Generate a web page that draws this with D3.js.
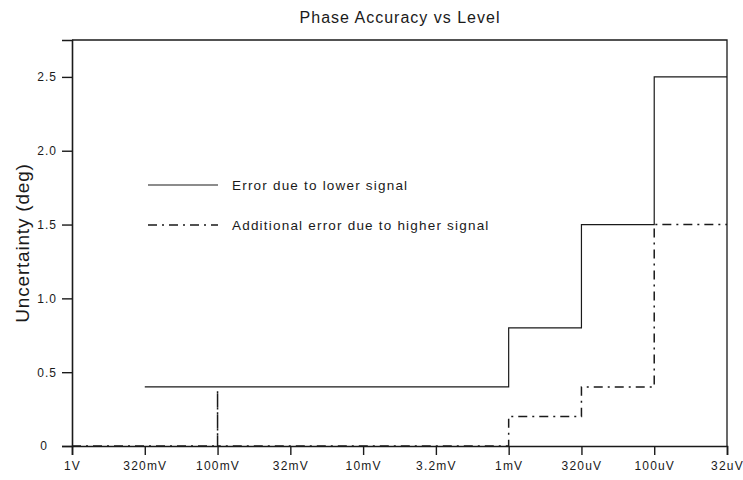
<!DOCTYPE html>
<html>
<head>
<meta charset="utf-8">
<script src="https://cdn.jsdelivr.net/npm/d3@7"></script>
<style>
  body { margin: 0; background: #fff; }
  svg { font-family: "Liberation Sans", Arial, sans-serif; }
</style>
</head>
<body>
<svg id="chart" width="743" height="480"></svg>
<script>
// levels along the x axis (decreasing signal)
const levels = ["1V", "320mV", "100mV", "32mV", "10mV", "3.2mV", "1mV", "320uV", "100uV", "32uV"];
const yTicks = [0, 0.5, 1.0, 1.5, 2.0, 2.5];

// Error due to lower signal (step, value holds until next level)
const lowerLevels = ["320mV", "1mV", "320uV", "100uV", "32uV"];
const lowerValues = [0.4, 0.8, 1.5, 2.5, 2.5];

// Additional error due to higher signal
const higherLevels = ["1V", "100mV", "100mV", "100mV", "1mV", "320uV", "100uV", "32uV"];
const higherValues = [0, 0, 0.38, 0, 0.2, 0.4, 1.5, 1.5];

const legendNames = ["Error due to lower signal", "Additional error due to higher signal"];

const margin = { top: 40, right: 16, bottom: 34, left: 72 };
const width = 743, height = 480;
const ink = "#1a1a1a";

const svg = d3.select("#chart");

const x = d3.scalePoint().domain(levels).range([margin.left, width - margin.right]);
const y = d3.scaleLinear().domain([0, 2.75]).range([height - margin.bottom, margin.top]);

// title
svg.append("text")
  .attr("x", 400).attr("y", 23)
  .attr("text-anchor", "middle")
  .attr("font-size", 16)
  .attr("letter-spacing", 1)
  .attr("fill", ink)
  .text("Phase Accuracy vs Level");

// y label
svg.append("text")
  .attr("transform", `translate(29,${(margin.top + height - margin.bottom) / 2}) rotate(-90)`)
  .attr("text-anchor", "middle")
  .attr("font-size", 19)
  .attr("letter-spacing", 0.8)
  .attr("fill", ink)
  .text("Uncertainty (deg)");

// frame top + right
svg.append("path")
  .attr("d", `M${x("1V")},${y(2.75)}H${x("32uV")}V${y(0)}`)
  .attr("fill", "none").attr("stroke", ink).attr("stroke-width", 1.3);

// axes
const xAxis = d3.axisBottom(x).tickSize(9).tickPadding(6);
const gx = svg.append("g")
  .attr("transform", `translate(0,${y(0)})`)
  .call(xAxis);
gx.select(".domain").attr("stroke", ink).attr("stroke-width", 1.6);
gx.selectAll(".tick line").attr("stroke", ink).attr("stroke-width", 1.4);
gx.selectAll(".tick text")
  .attr("font-size", 12).attr("letter-spacing", 1.2).attr("fill", ink)
  .attr("font-family", "Liberation Sans, Arial, sans-serif");

const yAxis = d3.axisLeft(y).tickValues(yTicks).tickSize(10).tickPadding(5)
  .tickFormat(d => d === 0 ? "0" : d3.format(".1f")(d));
const gy = svg.append("g")
  .attr("transform", `translate(${margin.left},0)`)
  .call(yAxis);
gy.select(".domain").attr("stroke", ink).attr("stroke-width", 1.6);
gy.selectAll(".tick line").attr("stroke", ink).attr("stroke-width", 1.4);
gy.selectAll(".tick text")
  .attr("font-size", 12).attr("letter-spacing", 1).attr("fill", ink)
  .attr("font-family", "Liberation Sans, Arial, sans-serif");
gy.selectAll(".tick").filter(d => d === 0).select("text").attr("dx", -9);

// series
const line = d3.line()
  .x(d => x(d[0]))
  .y(d => y(d[1]))
  .curve(d3.curveStepAfter);

const lowerData = lowerLevels.map((l, i) => [l, lowerValues[i]]);
const higherData = higherLevels.map((l, i) => [l, higherValues[i]]);

svg.append("path")
  .datum(lowerData)
  .attr("d", line)
  .attr("fill", "none").attr("stroke", ink).attr("stroke-width", 1.2);

const dashPattern = "9,5,2,5";
svg.append("path")
  .datum(higherData)
  .attr("d", line)
  .attr("fill", "none").attr("stroke", ink).attr("stroke-width", 1.5)
  .attr("stroke-dasharray", dashPattern);

// legend
const legend = svg.append("g").attr("transform", "translate(148,185)");
legendNames.forEach((name, i) => {
  const g = legend.append("g").attr("transform", `translate(0,${i * 40})`);
  g.append("line")
    .attr("x1", 0).attr("x2", 70).attr("y1", 0).attr("y2", 0)
    .attr("stroke", ink)
    .attr("stroke-width", i === 0 ? 1.2 : 1.5)
    .attr("stroke-dasharray", i === 0 ? null : dashPattern);
  g.append("text")
    .attr("x", 84).attr("y", 5)
    .attr("font-size", 13.5)
    .attr("letter-spacing", 1.2)
    .attr("fill", ink)
    .text(name);
});
</script>
</body>
</html>
